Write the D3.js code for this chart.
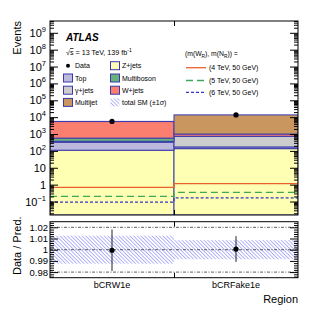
<!DOCTYPE html>
<html>
<head>
<meta charset="utf-8">
<script src="https://cdn.jsdelivr.net/npm/d3@7"></script>
<style>
  body { margin: 0; background: #fff; }
  svg { font-family: "Liberation Sans", Arial, sans-serif; display: block; }
</style>
</head>
<body>
<svg id="chart" width="332" height="316"></svg>
<script>
// ---- data ----
const regions = ["bCRW1e", "bCRFake1e"];

// stacked backgrounds, bottom to top
const zjets      = [110, 136];
const topq       = [215, 35];
const gammajets  = [45, 545];
const multiboson = [200, 18];
const wjets      = [4930, 265];
const multijet   = [100, 12600];

const dataCounts = [5597, 13608];
const ratio      = [0.9995, 1.0006];
const ratioErr   = [0.0185, 0.0115];
const bandErr    = [0.0125, 0.0085];   // total SM relative uncertainty

// signal (m(WR), m(NR))
const sig4 = [0.69, 1.15];
const sig5 = [0.20, 0.35];
const sig6 = [0.091, 0.165];

const mainTicks  = [1e-1, 1, 10, 1e2, 1e3, 1e4, 1e5, 1e6, 1e7, 1e8, 1e9];
const ratioTicks = [0.98, 0.99, 1.0, 1.01, 1.02];
const ratioTickLabels = ["0.98", "0.99", "1", "1.01", "1.02"];

const svg = d3.select("#chart");
const width = +svg.attr("width");

const margin = {left: 50, right: 34};
const mainTop = 21, mainBottom = 215;
const ratTop = 221.7, ratBottom = 277.7;
const edge = "#3a3aae";

const stack = [
  {name: "Z+jets",     vals: zjets,      color: "#ffffb4"},
  {name: "Top",        vals: topq,       color: "#bdb9dd"},
  {name: "γ+jets",     vals: gammajets,  color: "#cccccc"},
  {name: "Multiboson", vals: multiboson, color: "#66b27a"},
  {name: "W+jets",     vals: wjets,      color: "#fb7f6f"},
  {name: "Multijet",   vals: multijet,   color: "#c9965f"}
];

const x = d3.scaleLinear()
  .domain([0, regions.length])
  .range([margin.left, width - margin.right]);

const y = d3.scaleLog()
  .domain([Math.pow(10, -1.8), Math.pow(10, 9.7)])
  .range([mainBottom, mainTop]);

const yr = d3.scaleLinear()
  .domain([0.975, 1.025])
  .range([ratBottom, ratTop]);

// hatch pattern for total SM uncertainty
const defs = svg.append("defs");
defs.append("pattern")
  .attr("id", "hatch")
  .attr("patternUnits", "userSpaceOnUse")
  .attr("width", 2.6).attr("height", 2.6)
  .attr("patternTransform", "rotate(-45)")
  .append("line")
  .attr("x1", 0).attr("y1", 0).attr("x2", 0).attr("y2", 2.6)
  .attr("stroke", "#6a6af4").attr("stroke-width", 1);

defs.append("clipPath").attr("id", "clipMain")
  .append("rect")
  .attr("x", x(0)).attr("y", mainTop)
  .attr("width", x(2) - x(0)).attr("height", mainBottom - mainTop);

// ---- main panel: stacked histogram ----
const plot = svg.append("g").attr("clip-path", "url(#clipMain)");

const cum = regions.map(() => y.domain()[0]);
stack.forEach(s => {
  s.vals.forEach((v, i) => {
    const lo = cum[i];
    const hi = lo + v;
    cum[i] = hi;
    plot.append("rect")
      .attr("x", x(i))
      .attr("y", y(hi))
      .attr("width", x(i + 1) - x(i))
      .attr("height", y(lo) - y(hi))
      .attr("fill", s.color)
      .attr("stroke", edge)
      .attr("stroke-width", 1);
  });
});

// total SM hatched band (tiny on log scale)
cum.forEach((tot, i) => {
  plot.append("rect")
    .attr("x", x(i))
    .attr("y", y(tot * (1 + bandErr[i])))
    .attr("width", x(i + 1) - x(i))
    .attr("height", y(tot * (1 - bandErr[i])) - y(tot * (1 + bandErr[i])))
    .attr("fill", "url(#hatch)");
});

// signal lines
const stepLine = d3.line()
  .x(d => x(d[0]))
  .y(d => y(d[1]))
  .curve(d3.curveStepAfter);

const signals = [
  {vals: sig4, color: "#e8602d", dash: null,  label: "(4 TeV, 50 GeV)"},
  {vals: sig5, color: "#3ea85a", dash: "7,4", label: "(5 TeV, 50 GeV)"},
  {vals: sig6, color: "#3535c0", dash: "3,2", label: "(6 TeV, 50 GeV)"}
];
signals.forEach(s => {
  const pts = s.vals.map((v, i) => [i, v]);
  pts.push([regions.length, s.vals[s.vals.length - 1]]);
  plot.append("path")
    .attr("d", stepLine(pts))
    .attr("fill", "none")
    .attr("stroke", s.color)
    .attr("stroke-width", 1.3)
    .attr("stroke-dasharray", s.dash);
});

// data points
svg.selectAll("circle.data")
  .data(dataCounts)
  .join("circle")
  .attr("class", "data")
  .attr("cx", (d, i) => x(i + 0.5))
  .attr("cy", d => y(d))
  .attr("r", 2.6)
  .attr("fill", "#000");

// ---- main panel axes ----
const minorVals = [];
for (let e = -2; e <= 9; e++) {
  for (let k = 2; k <= 9; k++) {
    const v = k * Math.pow(10, e);
    if (v > y.domain()[0] && v < y.domain()[1]) minorVals.push(v);
  }
}

const supers = {"-1": "−1", "2": "2", "3": "3", "4": "4", "5": "5", "6": "6", "7": "7", "8": "8", "9": "9"};

const yAxisL = svg.append("g")
  .attr("transform", `translate(${x(0)},0)`)
  .call(d3.axisLeft(y).tickValues(mainTicks).tickSize(-8).tickPadding(4).tickFormat(""));
yAxisL.selectAll(".tick text").each(function(d) {
  const e = Math.round(Math.log10(d));
  const t = d3.select(this).attr("font-size", 11).attr("fill", "#000");
  if (e === 0) t.text("1");
  else if (e === 1) t.text("10");
  else {
    t.text("10");
    t.append("tspan").attr("dy", -5).attr("font-size", 7.5).text(supers[String(e)]);
  }
});
svg.append("g")
  .attr("transform", `translate(${x(0)},0)`)
  .call(d3.axisLeft(y).tickValues(minorVals).tickSize(-4).tickFormat(""));
svg.append("g")
  .attr("transform", `translate(${x(2)},0)`)
  .call(d3.axisRight(y).tickValues(mainTicks).tickSize(-8).tickFormat(""));
svg.append("g")
  .attr("transform", `translate(${x(2)},0)`)
  .call(d3.axisRight(y).tickValues(minorVals).tickSize(-4).tickFormat(""));

svg.append("g")
  .attr("transform", `translate(0,${mainBottom})`)
  .call(d3.axisBottom(x).tickValues([1]).tickSize(-5).tickFormat(""));
svg.append("g")
  .attr("transform", `translate(0,${mainTop})`)
  .call(d3.axisTop(x).tickValues([1]).tickSize(-5).tickFormat(""));

svg.selectAll(".domain").remove();
svg.selectAll(".tick line").attr("stroke", "#000");

svg.append("rect")
  .attr("x", x(0)).attr("y", mainTop)
  .attr("width", x(2) - x(0)).attr("height", mainBottom - mainTop)
  .attr("fill", "none").attr("stroke", "#000").attr("stroke-width", 1);

// ---- ratio panel ----
regions.forEach((r, i) => {
  svg.append("rect")
    .attr("x", x(i))
    .attr("y", yr(1 + bandErr[i]))
    .attr("width", x(i + 1) - x(i))
    .attr("height", yr(1 - bandErr[i]) - yr(1 + bandErr[i]))
    .attr("fill", "url(#hatch)");
});

[0.98, 1.0, 1.02].forEach(v => {
  svg.append("line")
    .attr("x1", x(0)).attr("x2", x(2))
    .attr("y1", yr(v)).attr("y2", yr(v))
    .attr("stroke", "#333").attr("stroke-width", 0.8)
    .attr("stroke-dasharray", "3,1.5,1,1.5");
});

regions.forEach((r, i) => {
  svg.append("line")
    .attr("x1", x(i + 0.5)).attr("x2", x(i + 0.5))
    .attr("y1", yr(ratio[i] + ratioErr[i])).attr("y2", yr(ratio[i] - ratioErr[i]))
    .attr("stroke", "#222").attr("stroke-width", 1);
  svg.append("circle")
    .attr("cx", x(i + 0.5)).attr("cy", yr(ratio[i]))
    .attr("r", 2.6).attr("fill", "#000");
});

const ratioMinor = d3.range(0.976, 1.025, 0.002).filter(v => Math.abs(v * 100 - Math.round(v * 100)) > 1e-6);
const yrAxis = svg.append("g")
  .attr("transform", `translate(${x(0)},0)`)
  .call(d3.axisLeft(yr).tickValues(ratioTicks).tickSize(-8).tickPadding(2)
    .tickFormat((d, i) => ratioTickLabels[i]));
yrAxis.selectAll("text").attr("font-size", 9.5).attr("fill", "#000");
yrAxis.select(".domain").remove();
svg.append("g")
  .attr("transform", `translate(${x(0)},0)`)
  .call(d3.axisLeft(yr).tickValues(ratioMinor).tickSize(-4).tickFormat(""))
  .select(".domain").remove();
svg.append("g")
  .attr("transform", `translate(${x(2)},0)`)
  .call(d3.axisRight(yr).tickValues(ratioTicks).tickSize(-8).tickFormat(""))
  .select(".domain").remove();
svg.append("g")
  .attr("transform", `translate(${x(2)},0)`)
  .call(d3.axisRight(yr).tickValues(ratioMinor).tickSize(-4).tickFormat(""))
  .select(".domain").remove();
svg.append("g")
  .attr("transform", `translate(0,${ratBottom})`)
  .call(d3.axisBottom(x).tickValues([1]).tickSize(-5).tickFormat(""))
  .select(".domain").remove();
svg.append("g")
  .attr("transform", `translate(0,${ratTop})`)
  .call(d3.axisTop(x).tickValues([1]).tickSize(-5).tickFormat(""))
  .select(".domain").remove();
svg.selectAll(".tick line").attr("stroke", "#000");

svg.append("rect")
  .attr("x", x(0)).attr("y", ratTop)
  .attr("width", x(2) - x(0)).attr("height", ratBottom - ratTop)
  .attr("fill", "none").attr("stroke", "#000").attr("stroke-width", 1);

// category labels
svg.selectAll("text.cat")
  .data(regions)
  .join("text")
  .attr("class", "cat")
  .attr("x", (d, i) => x(i + 0.5))
  .attr("y", 288)
  .attr("text-anchor", "middle")
  .style("font-size", "9px")
  .text(d => d);

// axis titles
svg.append("text")
  .attr("x", x(2))
  .attr("y", 303)
  .attr("text-anchor", "end")
  .style("font-size", "11px")
  .text("Region");

svg.append("text")
  .attr("transform", "rotate(-90)")
  .attr("x", -mainTop)
  .attr("y", 21)
  .attr("text-anchor", "end")
  .style("font-size", "11px")
  .text("Events");

svg.append("text")
  .attr("transform", "rotate(-90)")
  .attr("x", -(ratTop + ratBottom) / 2 + 4)
  .attr("y", 21)
  .attr("text-anchor", "middle")
  .style("font-size", "11px")
  .text("Data / Pred.");

// ---- labels & legend ----
svg.append("text")
  .attr("x", 66).attr("y", 41)
  .style("font-size", "10px")
  .style("font-weight", "bold")
  .style("font-style", "italic")
  .text("ATLAS");

const lum = svg.append("text")
  .attr("x", 66).attr("y", 55)
  .style("font-size", "7.2px");
lum.append("tspan").text("√");
lum.append("tspan").attr("text-decoration", "overline").text("s");
lum.append("tspan").text(" = 13 TeV, 139 fb");
lum.append("tspan").attr("dy", -3).style("font-size", "5px").text("-1");

const rowY = [65.7, 78, 90.2, 102.4];
const legItems = [
  {col: 0, row: 0, label: "Data", type: "data"},
  {col: 0, row: 1, label: "Top", color: stack[1].color},
  {col: 0, row: 2, label: "γ+jets", color: stack[2].color},
  {col: 0, row: 3, label: "Multijet", color: stack[5].color},
  {col: 1, row: 0, label: "Z+jets", color: stack[0].color},
  {col: 1, row: 1, label: "Multiboson", color: stack[3].color},
  {col: 1, row: 2, label: "W+jets", color: stack[4].color},
  {col: 1, row: 3, label: "total SM (±1σ)", type: "band"}
];
const colX = [63.5, 110.5];
legItems.forEach(it => {
  const bx = colX[it.col], cy = rowY[it.row];
  if (it.type === "data") {
    svg.append("circle").attr("cx", bx + 4.5).attr("cy", cy).attr("r", 2).attr("fill", "#000");
  } else if (it.type === "band") {
    svg.append("rect").attr("x", bx).attr("y", cy - 4).attr("width", 9).attr("height", 8)
      .attr("fill", "url(#hatch)");
  } else {
    svg.append("rect").attr("x", bx).attr("y", cy - 4).attr("width", 9).attr("height", 8)
      .attr("fill", it.color).attr("stroke", edge).attr("stroke-width", 1);
  }
  svg.append("text")
    .attr("x", bx + 11.5).attr("y", cy + 2.5)
    .style("font-size", "7px")
    .text(it.label);
});

const hdr = svg.append("text")
  .attr("x", 185).attr("y", 56)
  .style("font-size", "6.8px");
hdr.append("tspan").text("(m(W");
hdr.append("tspan").attr("dy", 2).style("font-size", "4.8px").text("R");
hdr.append("tspan").attr("dy", -2).text("), m(N");
hdr.append("tspan").attr("dy", 2).style("font-size", "4.8px").text("R");
hdr.append("tspan").attr("dy", -2).text(")) =");

const sigRowY = [67.7, 80.5, 92.3];
signals.forEach((s, i) => {
  svg.append("line")
    .attr("x1", 186).attr("x2", 206)
    .attr("y1", sigRowY[i]).attr("y2", sigRowY[i])
    .attr("stroke", s.color).attr("stroke-width", 1.3)
    .attr("stroke-dasharray", s.dash);
  svg.append("text")
    .attr("x", 209).attr("y", sigRowY[i] + 2.5)
    .style("font-size", "7px")
    .text(s.label);
});
</script>
</body>
</html>
